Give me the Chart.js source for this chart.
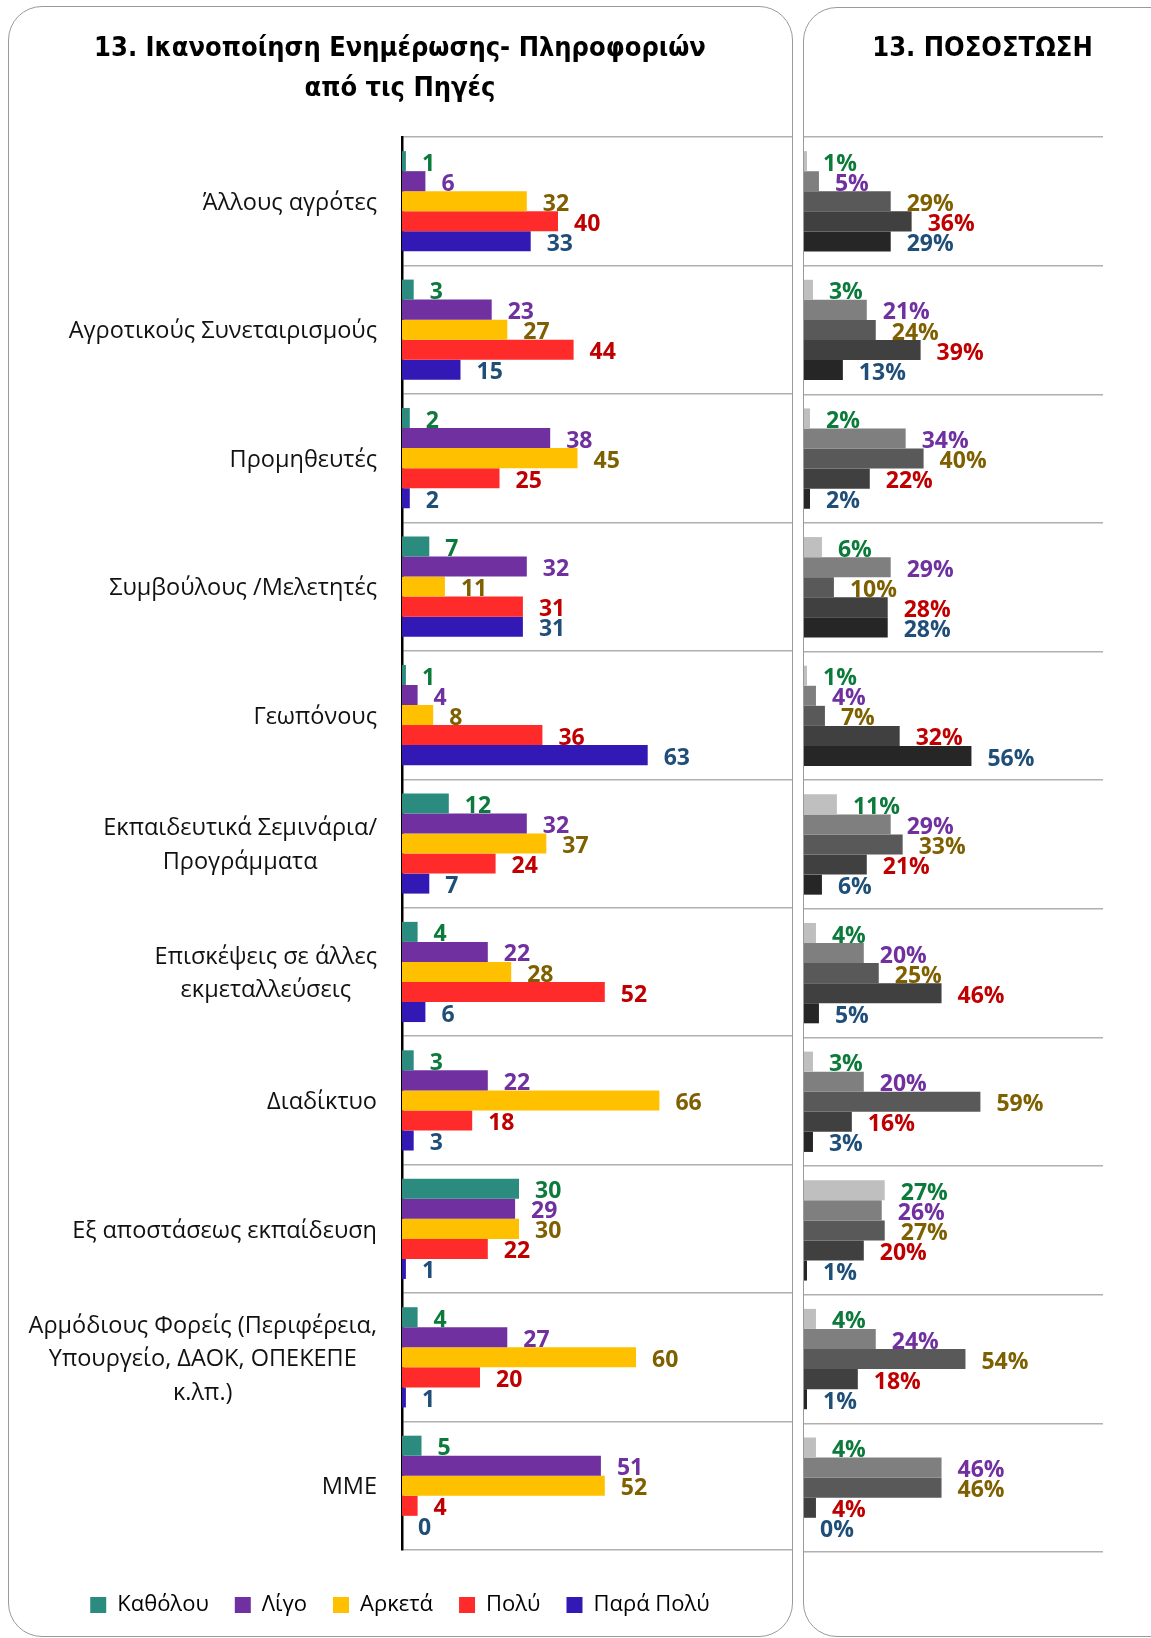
<!DOCTYPE html>
<html lang="el">
<head>
<meta charset="utf-8">
<title>13. Ικανοποίηση Ενημέρωσης- Πληροφοριών από τις Πηγές</title>
<script src="https://cdn.jsdelivr.net/npm/chart.js@4.4.1/dist/chart.umd.min.js"></script>
<style>
  html, body { margin: 0; padding: 0; background: #fff; overflow: hidden; }
  body { width: 1151px; height: 1638px; position: relative; }
  .panel { position: absolute; box-sizing: border-box; border: 1.5px solid #9a9a9a; border-radius: 34px; }
  #panelLeft { left: 8px; top: 6px; width: 785px; height: 1631px; }
  #panelRight { left: 803px; top: 7px; width: 400px; height: 1630px; }
  .wrap { position: absolute; top: 0; }
  #wrapLeft { left: 8px; }
  #wrapRight { left: 803px; }
</style>
</head>
<body>
<div class="panel" id="panelLeft"></div>
<div class="panel" id="panelRight"></div>
<div class="wrap" id="wrapLeft"><canvas id="chartLeft" width="784" height="1638"></canvas></div>
<div class="wrap" id="wrapRight"><canvas id="chartRight" width="358" height="1638"></canvas></div>
<script>
const categories = [
  ['Άλλους αγρότες'],
  ['Αγροτικούς Συνεταιρισμούς'],
  ['Προμηθευτές'],
  ['Συμβούλους /Μελετητές'],
  ['Γεωπόνους'],
  ['Εκπαιδευτικά Σεμινάρια/', 'Προγράμματα'],
  ['Επισκέψεις σε άλλες', 'εκμεταλλεύσεις'],
  ['Διαδίκτυο'],
  ['Εξ αποστάσεως εκπαίδευση'],
  ['Αρμόδιους Φορείς (Περιφέρεια,', 'Υπουργείο, ΔΑΟΚ, ΟΠΕΚΕΠΕ', 'κ.λπ.)'],
  ['ΜΜΕ'],
]
const seriesNames = ['Καθόλου', 'Λίγο', 'Αρκετά', 'Πολύ', 'Παρά Πολύ']

// counts (left chart)
const katholou = [1, 3, 2, 7, 1, 12, 4, 3, 30, 4, 5]
const ligo = [6, 23, 38, 32, 4, 32, 22, 22, 29, 27, 51]
const arketa = [32, 27, 45, 11, 8, 37, 28, 66, 30, 60, 52]
const poly = [40, 44, 25, 31, 36, 24, 52, 18, 22, 20, 4]
const paraPoly = [33, 15, 2, 31, 63, 7, 6, 3, 1, 1, 0]

// percentages (right chart)
const pctKatholou = [1, 3, 2, 6, 1, 11, 4, 3, 27, 4, 4]
const pctLigo = [5, 21, 34, 29, 4, 29, 20, 20, 26, 24, 46]
const pctArketa = [29, 24, 40, 10, 7, 33, 25, 59, 27, 54, 46]
const pctPoly = [36, 39, 22, 28, 32, 21, 46, 16, 20, 18, 4]
const pctParaPoly = [29, 13, 2, 28, 56, 6, 5, 3, 1, 1, 0]

const barColors = ['#2b8b7e', '#7030a0', '#ffc000', '#ff2b2b', '#3219b5']
const grayColors = ['#bfbfbf', '#7f7f7f', '#595959', '#404040', '#262626']
const labelColors = ['#0b7a3a', '#7030a0', '#7f6000', '#c00000', '#1f4e79']

const TITLE_FONT = '"Liberation Sans Narrow", "DejaVu Sans Condensed", sans-serif'
const TEXT_FONT = '"Open Sans", "Noto Sans", sans-serif'

// category names drawn left of the axis, each block right-aligned, lines centred
const categoryLabels = {
  id: 'categoryLabels',
  afterDraw(chart) {
    const { ctx, chartArea } = chart
    const y = chart.scales.y
    ctx.save()
    ctx.font = `23.5px ${TEXT_FONT}`
    ctx.fillStyle = '#111'
    ctx.textBaseline = 'middle'
    ctx.textAlign = 'center'
    categories.forEach((lines, i) => {
      const cy = y.getPixelForValue(i) + 2
      const w = Math.max(...lines.map((l) => ctx.measureText(l).width))
      const cx = chartArea.left - 25 - w / 2
      lines.forEach((l, k) => ctx.fillText(l, cx, cy + (k - (lines.length - 1) / 2) * 33.5))
    })
    ctx.restore()
  },
}

// value labels just past the end of each bar
const valueLabels = {
  id: 'valueLabels',
  afterDatasetsDraw(chart, args, opts) {
    const { ctx } = chart
    ctx.save()
    ctx.font = `bold 23px ${TEXT_FONT}`
    ctx.textBaseline = 'middle'
    ctx.textAlign = 'left'
    chart.data.datasets.forEach((ds, d) => {
      ctx.fillStyle = labelColors[d]
      chart.getDatasetMeta(d).data.forEach((bar, i) => {
        ctx.fillText(ds.data[i] + (opts.suffix || ''), bar.x + 16, bar.y + 3)
      })
    })
    ctx.restore()
  },
}

function makeDatasets(series, colors) {
  return series.map((data, i) => ({
    label: seriesNames[i],
    data,
    backgroundColor: colors[i],
    borderWidth: 0,
    categoryPercentage: 0.78,
    barPercentage: 1,
  }))
}

new Chart(document.getElementById('chartLeft'), {
  type: 'bar',
  data: {
    labels: categories,
    datasets: makeDatasets([katholou, ligo, arketa, poly, paraPoly], barColors),
  },
  options: {
    indexAxis: 'y',
    responsive: false,
    animation: false,
    layout: { padding: { top: 0, right: 0, bottom: 12, left: 0 } },
    scales: {
      // hidden x axis, only keeps a small gap between the plot and the legend
      x: {
        min: 0,
        max: 100,
        ticks: { display: false },
        grid: { display: false },
        border: { display: false },
        afterFit: (s) => { s.height = 18 },
      },
      y: {
        ticks: { display: false },
        grid: { color: '#b0b0b0', lineWidth: 1.5, drawTicks: false },
        border: { color: '#000', width: 2.5 },
        afterFit: (s) => { s.width = 394 },
      },
    },
    plugins: {
      title: {
        display: true,
        text: ['13. Ικανοποίηση Ενημέρωσης- Πληροφοριών', 'από τις Πηγές'],
        color: '#000',
        font: { family: TITLE_FONT, size: 27, weight: 'bold', lineHeight: 40 / 27 },
        padding: { top: 29, bottom: 28 },
      },
      legend: {
        position: 'bottom',
        labels: {
          boxWidth: 16,
          boxHeight: 16,
          padding: 26,
          color: '#000',
          font: { family: TEXT_FONT, size: 22 },
        },
      },
      tooltip: { enabled: false },
    },
  },
  plugins: [categoryLabels, valueLabels],
})

new Chart(document.getElementById('chartRight'), {
  type: 'bar',
  data: {
    labels: categories,
    datasets: makeDatasets([pctKatholou, pctLigo, pctArketa, pctPoly, pctParaPoly], grayColors),
  },
  options: {
    indexAxis: 'y',
    responsive: false,
    animation: false,
    layout: { padding: { top: 0, right: 0, bottom: 86, left: 1 } },
    scales: {
      x: { display: false, min: 0, max: 100 },
      y: {
        position: 'right',
        ticks: { display: false },
        grid: { color: '#b0b0b0', lineWidth: 1.5, drawTicks: false },
        border: { display: false },
        afterFit: (s) => { s.width = 58 },
      },
    },
    plugins: {
      title: {
        display: true,
        text: '13. ΠΟΣΟΣΤΩΣΗ',
        color: '#000',
        font: { family: TITLE_FONT, size: 27, weight: 'bold', lineHeight: 40 / 27 },
        padding: { top: 29, bottom: 68 },
      },
      legend: { display: false },
      tooltip: { enabled: false },
      valueLabels: { suffix: '%' },
    },
  },
  plugins: [valueLabels],
})
</script>
</body>
</html>
